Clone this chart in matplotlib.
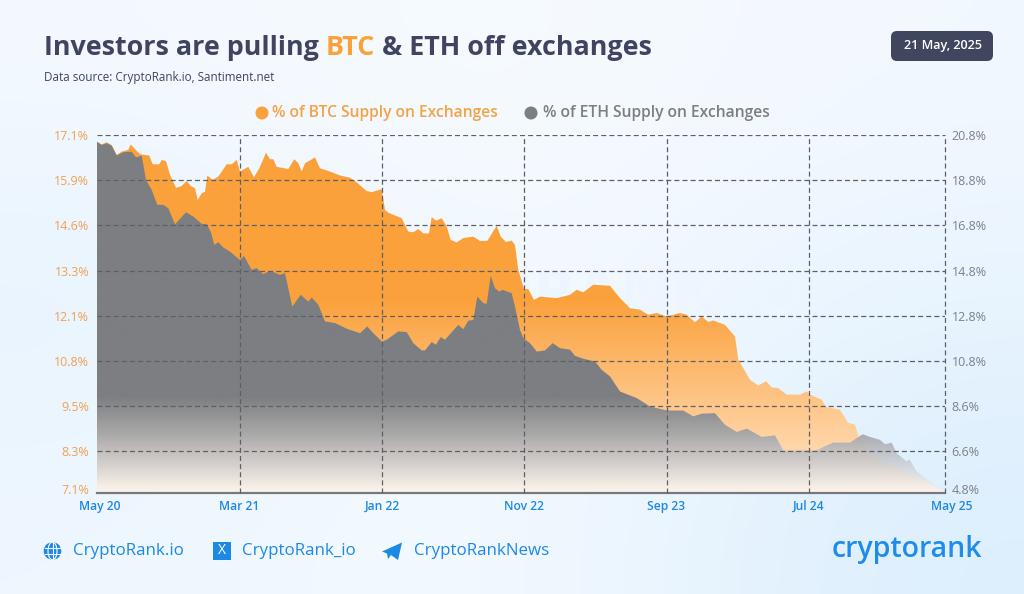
import numpy as np
import matplotlib
matplotlib.use('Agg')
import matplotlib.pyplot as plt
from matplotlib.patches import FancyBboxPatch, Circle, Ellipse, Polygon, Rectangle
from matplotlib.transforms import ScaledTranslation

# sample index along the time axis (about 2 days per sample), supply in %
btc_x = [0, 4.7, 9.7, 14.7, 19.7, 24.7, 31.3, 33.7, 38, 43, 52.3, 55.7, 62.3, 64.7, 69, 73, 79, 84.7, 89.7, 93.7,
         98, 100.7, 104.7, 108, 110.3, 115.7, 121.3, 129.7, 134.7, 139.7, 143, 151.3, 157, 163, 169, 173, 176.3,
         179.7, 191.3, 197.3, 201.3, 204.7, 208, 218, 223, 233, 243, 253, 259.7, 269.7, 274.7, 284.7, 288, 291.3,
         304.7, 311.3, 316.3, 321.3, 326.3, 332, 334.7, 339, 344.7, 349.7, 353.7, 359.7, 366.3, 376.3, 383, 390.3,
         399.7, 403.7, 409, 414.7, 418, 421.3, 427, 431.3, 437, 443, 459.7, 473, 479.7, 486.3, 496.3, 513, 523,
         533, 543, 551.3, 559.7, 569.7, 583, 589.7, 598, 604.7, 611.3, 616.3, 628, 638, 641.3, 653, 661.3, 669,
         674.7, 681.3, 689.7, 703, 709.7, 713, 724.7, 729, 743, 751.3, 758, 761.3, 773, 783, 803, 825, 847]
btc_y = [16.91, 16.84, 16.90, 16.82, 16.55, 16.64, 16.69, 16.84, 16.71, 16.57, 16.53, 16.29, 16.29, 16.41, 16.38,
         16.00, 15.64, 15.69, 15.83, 15.69, 15.63, 15.30, 15.49, 15.53, 15.98, 15.86, 15.95, 16.29, 16.29, 16.41,
         16.09, 16.22, 15.93, 16.22, 16.61, 16.43, 16.43, 16.22, 16.16, 16.43, 16.32, 16.09, 16.32, 16.48, 16.18,
         16.09, 15.98, 15.92, 15.79, 15.55, 15.52, 15.60, 15.03, 14.95, 14.80, 14.43, 14.41, 14.50, 14.38, 14.38,
         14.83, 14.73, 14.80, 14.57, 14.20, 14.13, 14.25, 14.29, 14.17, 14.17, 14.59, 14.29, 14.14, 14.18, 14.06,
         13.37, 12.84, 12.84, 12.54, 12.63, 12.59, 12.68, 12.82, 12.75, 12.96, 12.93, 12.59, 12.31, 12.27, 12.13,
         12.18, 12.08, 12.18, 12.13, 11.92, 12.08, 11.93, 11.97, 11.85, 11.53, 10.89, 10.33, 10.17, 10.29, 10.12,
         10.10, 9.92, 9.92, 10.01, 9.92, 9.78, 9.58, 9.50, 9.14, 9.09, 8.79, 8.34, 8.12, 7.85, 7.54, 7.23]

eth_x = [0, 4.7, 9.7, 14.7, 19.7, 26.3, 34.7, 39, 44.7, 49, 54.7, 60.3, 66.3, 71.3, 78, 89, 96.3, 104.7, 109.7, 113.7,
         117.3, 121.3, 126.3, 133, 143, 147, 154.7, 159.7, 166.3, 173, 183, 188, 195.3, 203.7, 211.3, 214.7, 221.3,
         228, 238, 249.7, 263, 270.3, 276.3, 285, 289.7, 301.3, 309.7, 316.3, 324.7, 328, 334.7, 339, 343.7, 348,
         361.3, 366.3, 371.3, 376.3, 380.3, 386.3, 389.7, 393.7, 398, 402.3, 405.7, 414.7, 418, 423, 426.3, 433,
         439.7, 448, 455.7, 463, 473, 478, 486.3, 498, 504.7, 513, 523, 539.7, 553, 569.7, 586.3, 596.3, 604.7,
         618, 628, 639.7, 649.7, 664.7, 678, 686.3, 709.7, 719.7, 727, 736.3, 753, 765.7, 773, 783, 788, 794.7,
         799.7, 809.7, 812.3, 819.7, 846]
eth_y = [20.50, 20.36, 20.43, 20.33, 19.89, 20.04, 20.06, 19.81, 19.89, 18.81, 18.37, 17.71, 17.71, 17.56, 16.85,
         17.38, 17.19, 16.87, 16.85, 16.53, 15.94, 16.06, 15.82, 15.64, 15.27, 15.45, 14.83, 14.91, 14.64, 14.80,
         14.61, 14.69, 13.21, 13.73, 13.43, 13.61, 13.29, 12.55, 12.48, 12.23, 12.03, 12.33, 12.03, 11.66, 11.74,
         12.11, 12.08, 11.59, 11.27, 11.27, 11.64, 11.52, 11.86, 11.74, 12.40, 12.21, 12.58, 12.62, 13.65, 13.36,
         13.33, 14.57, 14.02, 13.87, 13.95, 13.80, 13.21, 12.18, 11.81, 11.59, 11.22, 11.27, 11.59, 11.37, 11.30,
         11.03, 10.90, 10.78, 10.41, 10.12, 9.45, 9.16, 8.79, 8.61, 8.61, 8.35, 8.47, 8.49, 7.98, 7.66, 7.81, 7.44,
         7.51, 6.84, 6.84, 6.84, 7.01, 7.19, 7.19, 7.56, 7.44, 7.31, 7.12, 7.19, 6.72, 6.35, 6.45, 5.92, 5.02]

x_ticks = [0, 142.5, 285, 427, 569.5, 712, 847.5]
x_labels = ['May 20', 'Mar 21', 'Jan 22', 'Nov 22', 'Sep 23', 'Jul 24', 'May 25']
btc_ticks = [17.1, 15.85, 14.6, 13.35, 12.1, 10.85, 9.6, 8.35, 7.2]
btc_labels = ['17.1%', '15.9%', '14.6%', '13.3%', '12.1%', '10.8%', '9.5%', '8.3%', '7.1%']
eth_ticks = [20.8, 18.8, 16.8, 14.8, 12.8, 10.8, 8.8, 6.8, 4.96]
eth_labels = ['20.8%', '18.8%', '16.8%', '14.8%', '12.8%', '10.8%', '8.6%', '6.6%', '4.8%']

W, H = 1024, 594
FONT = 'Open Sans'
NAVY = '#3F4560'
ORANGE = '#FBA13C'
GRAY = '#7C7E82'
BLUE = '#1E88E5'


def hex_rgb(c):
    return np.array(matplotlib.colors.to_rgb(c))


def vertical_gradient(stops, n=360):
    # stops are (fraction from top, rgb colour, alpha)
    pos = [s[0] for s in stops]
    t = np.linspace(0, 1, n)
    img = np.zeros((n, 1, 4))
    for i in range(3):
        img[:, 0, i] = np.interp(t, pos, [hex_rgb(s[1])[i] for s in stops])
    img[:, 0, 3] = np.interp(t, pos, [s[2] for s in stops])
    return img


def gradient_area(ax, xs, ys, stops, y0, y1, zorder):
    xlim = (x_ticks[0], x_ticks[-1])
    poly = Polygon(list(zip(xs, ys)) + [(xs[-1], y0), (xs[0], y0)], closed=True,
                   transform=ax.transData, facecolor='none', edgecolor='none')
    ax.add_patch(poly)
    im = ax.imshow(vertical_gradient(stops), extent=[xlim[0], xlim[1], y0, y1], aspect='auto',
                   zorder=zorder, interpolation='bilinear')
    im.set_clip_path(poly)
    ax.set_xlim(xlim)
    ax.set_ylim(y0, y1)


fig = plt.figure(figsize=(W / 100, H / 100), dpi=100)

# page background and everything in pixel coordinates
bg = fig.add_axes([0, 0, 1, 1])
bg.set_xlim(0, W)
bg.set_ylim(H, 0)
bg.axis('off')
bg_colors = np.array([[hex_rgb('#F3F9FF'), hex_rgb('#F7FBFF'), hex_rgb('#F2F8FF')],
                      [hex_rgb('#E6F3FE'), hex_rgb('#F6FBFF'), hex_rgb('#E8F4FE')],
                      [hex_rgb('#EEF7FF'), hex_rgb('#F6FBFF'), hex_rgb('#DCEEFD')]])
bg.imshow(bg_colors, extent=[0, W, H, 0], aspect='auto', interpolation='bicubic', zorder=0)
bg.set_xlim(0, W)
bg.set_ylim(H, 0)
bg.text(805, 299, 'CRYPTORANK.IO', color='#EDF6FE', fontsize=46, family=FONT, weight='bold',
        ha='right', va='center', zorder=1)


def chained_text(x, y, parts, **kw):
    # draws coloured runs of text one after another
    r = fig.canvas.get_renderer()
    for s, c in parts:
        t = bg.text(x, y, s, color=c, va='center', ha='left', **kw)
        x = t.get_window_extent(r).x1
    return x


chained_text(44, 48, [('Investors are pulling ', NAVY), ('BTC', ORANGE), (' & ETH off exchanges', NAVY)],
             fontsize=19.35, family=FONT, weight='bold')
bg.text(44, 77, 'Data source: CryptoRank.io, Santiment.net', color=NAVY, fontsize=8.4, family=FONT,
        va='center', ha='left')

bg.add_patch(FancyBboxPatch((894, 34), 96, 24, boxstyle='round,pad=3,rounding_size=6', fc='#41465F', ec='none'))
bg.text(942.5, 46, '21 May, 2025', color='white', fontsize=9.1, family=FONT, weight='semibold',
        ha='center', va='center')

bg.add_patch(Circle((262, 113), 6.5, fc=ORANGE, ec='none'))
bg.text(272, 113, '% of BTC Supply on Exchanges', color='#F5A245', fontsize=11.25, family=FONT, weight='semibold',
        ha='left', va='center')
bg.add_patch(Circle((531, 113), 6.5, fc=GRAY, ec='none'))
bg.text(543, 113, '% of ETH Supply on Exchanges', color=GRAY, fontsize=11.25, family=FONT, weight='semibold',
        ha='left', va='center')

# chart
left, right, top, bottom = 97, 944.5, 135, 493
rect = [left / W, 1 - bottom / H, (right - left) / W, (bottom - top) / H]
ax = fig.add_axes(rect)
ax.patch.set_visible(False)
ax2 = ax.twinx()
ax2.patch.set_visible(False)

y_b = (btc_ticks[-1], btc_ticks[0])
y_e = (eth_ticks[-1], eth_ticks[0])
gradient_area(ax, btc_x, btc_y, [(0, ORANGE, 1), (0.46, ORANGE, 1), (0.75, '#FEC689', 1), (0.88, '#FFD7AB', 1),
                                 (1, '#FFF6EC', 1)], y_b[0], y_b[1], 2)
gradient_area(ax2, eth_x, eth_y, [(0, GRAY, 1), (0.73, GRAY, 1), (0.83, '#A2A4A8', 0.95), (0.92, '#C9CBD0', 0.8),
                                  (1, '#FBF6F0', 0.6)], y_e[0], y_e[1], 2)

ax.set_xticks(x_ticks)
ax.set_xticklabels(x_labels, fontsize=8.7, family=FONT, weight='semibold', color=BLUE)
ax.set_yticks(btc_ticks)
ax.set_yticklabels(btc_labels, fontsize=9, family=FONT, color='#F0A154')
ax2.set_yticks(eth_ticks)
ax2.set_yticklabels(eth_labels, fontsize=9, family=FONT, color='#7E8189')
ax.tick_params(axis='both', length=0)
ax.tick_params(axis='x', pad=5)
ax.tick_params(axis='y', pad=5.5)
ax2.tick_params(axis='y', length=0, pad=5)


# the end labels sit off their grid lines
def nudge(label, dx, dy):
    label.set_transform(label.get_transform() + ScaledTranslation(dx / 100, dy / 100, fig.dpi_scale_trans))


nudge(ax.get_xticklabels()[0], 3, 0)
nudge(ax.get_xticklabels()[-1], 7, 0)
nudge(ax.get_yticklabels()[-1], 0, 4)
nudge(ax2.get_yticklabels()[-1], 0, 4)

for s in ax.spines.values():
    s.set_visible(False)
for s in ax2.spines.values():
    s.set_visible(False)
ax2.spines['bottom'].set_visible(True)
ax2.spines['bottom'].set_color('#77797D')
ax2.spines['bottom'].set_linewidth(1.6)

# grid over the areas, so it goes on the upper axes
ax2.set_zorder(3)
for v in eth_ticks[:-1]:
    ax2.axhline(v, color='#5E6065', lw=0.9, ls=(0, (4, 2.5)), zorder=5)
for v in x_ticks[1:]:
    ax2.axvline(v, color='#5E6065', lw=0.9, ls=(0, (4, 2.5)), zorder=5, clip_on=False)

# footer
fy = 551
bg.add_patch(Circle((52.5, fy), 8.8, fc=BLUE, ec='none', zorder=2))
for d in (-3.2, 3.2):
    bg.plot([44.5, 60.5], [fy + d, fy + d], color='#F7FBFF', lw=0.8, zorder=3)
bg.plot([52.5, 52.5], [fy - 9, fy + 9], color='#F7FBFF', lw=0.8, zorder=3)
bg.add_patch(Ellipse((52.5, fy), 9, 17.6, fc='none', ec='#F7FBFF', lw=0.8, zorder=3))
bg.add_patch(Rectangle((213, fy - 9), 18, 18, fc=BLUE, ec='none', zorder=2))
bg.text(222, fy, 'X', color='white', fontsize=10, family=FONT, ha='center', va='center', zorder=3)
bg.add_patch(Polygon([(382, fy + 0.5), (402, fy - 8.5), (398, fy + 9), (391, fy + 4), (388, fy + 8), (387, fy + 2.5)],
                     closed=True, fc=BLUE, ec='none'))
for x, s in [(73, 'CryptoRank.io'), (242, 'CryptoRank_io'), (414, 'CryptoRankNews')]:
    bg.text(x, fy, s, color=BLUE, fontsize=12.2, family=FONT, ha='left', va='center')
bg.text(906.5, 549, 'cryptorank', color='#1F8CEB', fontsize=20.5, family=FONT, weight='semibold',
        ha='center', va='center')

fig.savefig('out.png', dpi=100)
